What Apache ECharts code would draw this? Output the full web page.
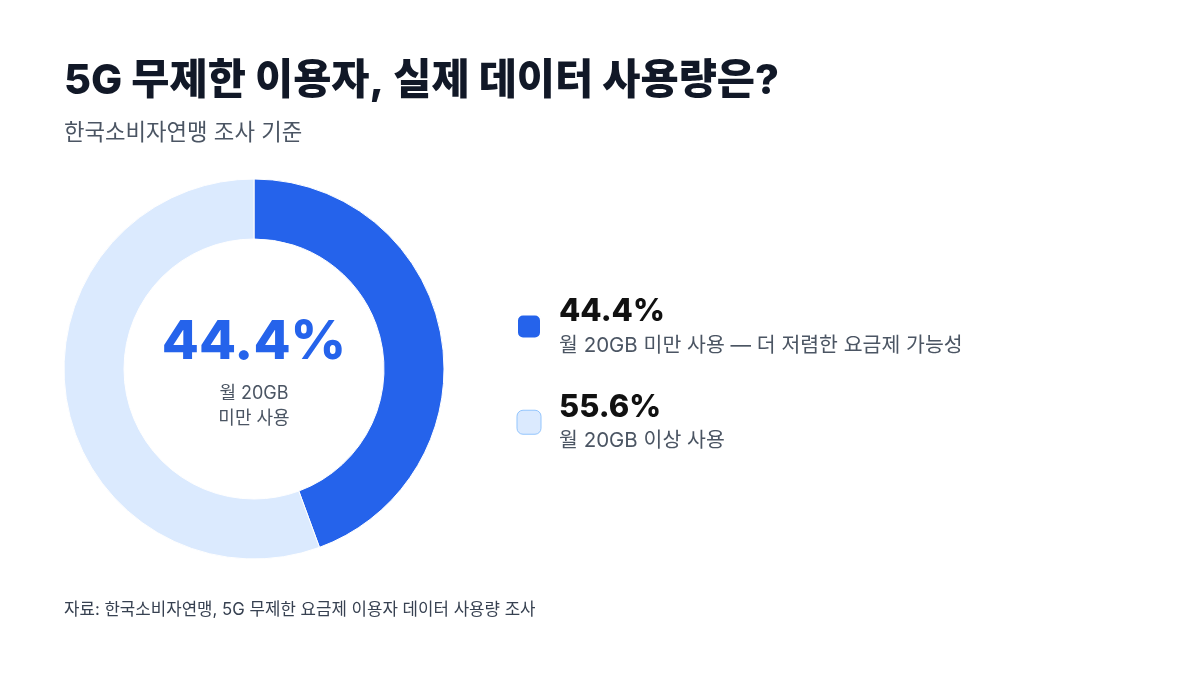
<!DOCTYPE html>
<html><head><meta charset="utf-8">
<script src="https://cdn.jsdelivr.net/npm/echarts@6/dist/echarts.min.js"></script>
<style>html,body{margin:0;padding:0;background:#fff}#c{width:1200px;height:675px}</style>
</head><body><div id="c"></div>
<script>
const titleText = '5G 무제한 이용자, 실제 데이터 사용량은?';
const subtitleText = '한국소비자연맹 조사 기준';
const sourceText = '자료: 한국소비자연맹, 5G 무제한 요금제 이용자 데이터 사용량 조사';
const categories = ['월 20GB 미만 사용', '월 20GB 이상 사용'];
const values = [44.4, 55.6];
const notes = ['월 20GB 미만 사용 — 더 저렴한 요금제 가능성', '월 20GB 이상 사용'];
const colors = ['#2563EB', '#DBEAFE'];
const centerLabel = ['월 20GB', '미만 사용'];

const FONT = "Inter, 'Noto Sans CJK KR', sans-serif";
const chart = echarts.init(document.getElementById('c'));
const legendData = categories.map((c, i) => ({
  name: c,
  itemStyle: i === 1 ? {color: colors[i], borderColor: '#93C5FD', borderWidth: 1} : {color: colors[i]}
}));
chart.setOption({
  backgroundColor: '#fff',
  animation: false,
  textStyle: {fontFamily: FONT},
  title: [
    {text: titleText, left: 59, top: 56, textStyle: {fontSize: 41.5, fontWeight: 800, color: '#111827', fontFamily: FONT}},
    {text: subtitleText, left: 59, top: 117, textStyle: {fontSize: 22.3, fontWeight: 400, color: '#4B5563', fontFamily: FONT}},
    {text: sourceText, left: 59, top: 597, textStyle: {fontSize: 16.8, fontWeight: 400, color: '#374151', fontFamily: FONT}}
  ],
  legend: {
    orient: 'vertical',
    left: 511,
    top: 291,
    itemWidth: 24,
    itemHeight: 24,
    itemGap: 36,
    icon: 'roundRect',
    selectedMode: false,
    data: legendData,
    formatter: function (name) {
      const i = categories.indexOf(name);
      return '{v|' + values[i].toFixed(1) + '%}\n{d|' + notes[i] + '}';
    },
    textStyle: {
      fontFamily: FONT,
      rich: {
        v: {fontSize: 31, fontWeight: 800, color: '#111111', lineHeight: 38, padding: [0, 0, 0, 13], fontFamily: FONT},
        d: {fontSize: 20.5, fontWeight: 400, color: '#4B5563', lineHeight: 30, padding: [0, 0, 0, 13], fontFamily: FONT}
      }
    }
  },
  graphic: [
    {type: 'text', x: 254, y: 343, silent: true,
     style: {text: values[0].toFixed(1) + '%', align: 'center', verticalAlign: 'middle',
       fontSize: 54, fontWeight: 800, fill: colors[0], fontFamily: FONT}},
    {type: 'text', x: 254, y: 406, silent: true,
     style: {text: centerLabel.join('\n'), align: 'center', verticalAlign: 'middle', lineHeight: 25,
       fontSize: 18, fontWeight: 400, fill: '#4B5563', fontFamily: FONT}}
  ],
  series: [{
    type: 'pie',
    center: [254, 369],
    radius: [130, 190],
    startAngle: 90,
    clockwise: true,
    silent: true,
    label: {show: false},
    labelLine: {show: false},
    itemStyle: {borderColor: '#fff', borderWidth: 1},
    data: categories.map((c, i) => ({name: c, value: values[i], itemStyle: {color: colors[i]}}))
  }]
});
</script></body></html>
